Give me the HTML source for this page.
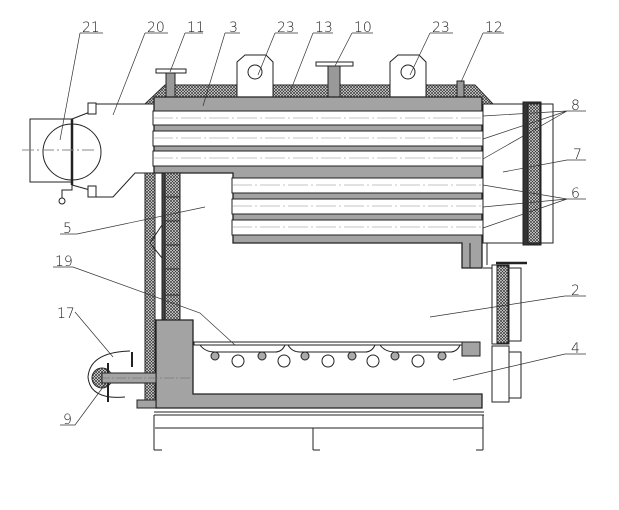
<!DOCTYPE html>
<html><head><meta charset="utf-8"><style>
html,body{margin:0;padding:0;background:#fff;}
svg{display:block;}
text{font-family:"DejaVu Sans","Liberation Sans",sans-serif;font-size:14px;fill:#222;font-weight:300;}
</style></head><body>
<svg width="619" height="510" viewBox="0 0 619 510" xmlns="http://www.w3.org/2000/svg">
<defs>
<pattern id="h" width="3" height="3" patternUnits="userSpaceOnUse">
<rect width="3" height="3" fill="#e8e8e8"/>
<path d="M0,0L3,3M3,0L0,3" stroke="#333" stroke-width="0.7"/>
</pattern>
</defs>
<g stroke="#222" stroke-width="1" fill="none">
<!-- top insulation -->
<path d="M145,104 L165,85 L475,85 L493,104 Z" fill="url(#h)"/>
<!-- lugs -->
<path d="M237,97 L237,62 L245,55 L266,55 L273,62 L273,97 Z" fill="#fff"/>
<circle cx="255" cy="72" r="7" fill="#fff"/>
<path d="M390,97 L390,62 L398,55 L419,55 L426,62 L426,97 Z" fill="#fff"/>
<circle cx="408" cy="72" r="7" fill="#fff"/>
<!-- nozzles -->
<rect x="156" y="69" width="30" height="4" fill="#fff"/>
<rect x="166" y="73" width="9" height="25" fill="#999"/>
<rect x="316" y="62" width="37" height="4" fill="#fff"/>
<rect x="328" y="66" width="12" height="32" fill="#999"/>
<rect x="457" y="81" width="7" height="17" fill="#999"/>
<!-- gray shell -->
<path d="M154,97 L482,97 L482,268 L462,268 L462,243 L233,243 L233,173 L154,173 Z" fill="#a3a3a3" stroke-width="1.3"/>
<!-- upper tubes -->
<g fill="#fff">
<rect x="153" y="111" width="330" height="14"/>
<rect x="153" y="131" width="330" height="15"/>
<rect x="153" y="151" width="330" height="15"/>
<rect x="232" y="178" width="251" height="15"/>
<rect x="232" y="199" width="251" height="15"/>
<rect x="232" y="220" width="251" height="15"/>
</g>
<g stroke="#888" stroke-width="0.6" stroke-dasharray="20,3,2,3">
<path d="M153,118H483M153,138H483M153,158H483M232,185H483M232,206H483M232,227H483"/>
</g>
<!-- flue box right -->
<rect x="483" y="104" width="40" height="139" fill="#fff"/>
<rect x="523" y="102" width="18" height="143" fill="#333"/>
<rect x="528" y="104" width="12" height="139" fill="url(#h)"/>
<rect x="541" y="104" width="12" height="139" fill="#fff"/>
<path d="M470,243 V268 M487,243 V265 M483,268 H492"/>
<!-- door 2 -->
<path d="M496,263 H527" stroke-width="2.5"/>
<rect x="492" y="265" width="17" height="79" fill="#fff"/>
<rect x="497" y="266" width="11" height="77" fill="url(#h)"/>
<rect x="509" y="268" width="12" height="73" fill="#fff"/>
<!-- door 4 -->
<rect x="492" y="346" width="17" height="56" fill="#fff"/>
<rect x="509" y="352" width="12" height="46" fill="#fff"/>
<rect x="462" y="342" width="18" height="14" fill="#a3a3a3"/>
<!-- left wall insulation -->
<rect x="145" y="173" width="10" height="228" fill="url(#h)"/>
<rect x="162" y="173" width="3" height="147" fill="#444"/>
<rect x="165" y="173" width="15" height="147" fill="url(#h)"/>
<path d="M165,197H180M165,221H180M165,245H180M165,269H180M165,295H180"/>
<path d="M162,225 L150,243 L162,258"/>
<!-- firebox L gray -->
<path d="M156,320 L193,320 L193,394 L482,394 L482,408 L156,408 Z" fill="#a3a3a3" stroke-width="1.3"/>
<rect x="137" y="400" width="19" height="8" fill="#a3a3a3"/>
<!-- grate -->
<rect x="194" y="342" width="268" height="3" fill="#fff"/>
<path d="M200,345 Q205,352 215,352 L275,352 Q282,352 285,345 M288,345 Q292,352 300,352 L365,352 Q372,352 375,345 M380,345 Q385,352 395,352 L450,352 Q457,352 460,345"/>
<g fill="#aaa"><circle cx="215" cy="356" r="4"/><circle cx="262" cy="356" r="4"/><circle cx="305" cy="356" r="4"/><circle cx="352" cy="356" r="4"/><circle cx="395" cy="356" r="4"/><circle cx="442" cy="356" r="4"/></g>
<g fill="#fff"><circle cx="238" cy="361" r="6"/><circle cx="284" cy="361" r="6"/><circle cx="328" cy="361" r="6"/><circle cx="373" cy="361" r="6"/><circle cx="418" cy="361" r="6"/></g>
<!-- base -->
<path d="M154,412 H484 M154,415 H484 M155,428 H483 M154,415 V450 M313,428 V450 M483,415 V450 M154,450 H162 M313,450 H320 M483,450 H476"/>
<!-- flue 20 -->
<path d="M100,104 H154 M154,173 L135,173 L113,197 L100,197"/>
<!-- damper 21 -->
<rect x="30" y="119" width="42" height="63" fill="#fff"/>
<ellipse cx="72" cy="152" rx="29" ry="28" fill="#fff"/>
<path d="M72,119 V185" stroke-width="2.5"/>
<path d="M22,150 H95" stroke="#888" stroke-dasharray="12,3,2,3"/>
<path d="M72,119 L90,112 M72,185 L90,190"/>
<rect x="88" y="103" width="8" height="11" fill="#fff"/>
<rect x="88" y="186" width="8" height="11" fill="#fff"/>
<path d="M96,104 H100 M96,197 H100"/>
<path d="M72,185 V190 H62 V198"/>
<circle cx="62" cy="201" r="3" fill="#fff"/>
<!-- burner -->
<path d="M130,351 Q90,352 88,377 Q90,400 125,397" fill="#fff"/>
<circle cx="102" cy="378" r="10" fill="url(#h)"/>
<path d="M108,363 V402" stroke-width="2"/>
<rect x="102" y="373" width="54" height="10" fill="#a3a3a3"/>
<path d="M132,352 V367" stroke-width="2"/>
<path d="M100,378 H190" stroke="#666" stroke-dasharray="10,2,2,2" stroke-width="0.6"/>
<!-- leaders -->
<g stroke="#333" stroke-width="0.7">
<path d="M80,33 H103 M80,33 L60,140"/>
<path d="M145,33 H168 M145,33 L113,115"/>
<path d="M185,33 H203 M185,33 L170,72"/>
<path d="M225,33 H240 M225,33 L203,106"/>
<path d="M275,33 H298 M275,33 L258,75"/>
<path d="M313,33 H333 M313,33 L290,92"/>
<path d="M352,33 H373 M352,33 L335,66"/>
<path d="M430,33 H453 M430,33 L410,75"/>
<path d="M483,33 H504 M483,33 L461,82"/>
<path d="M567,111 H586 M567,111 L483,116 M567,111 L483,139 M567,111 L483,159"/>
<path d="M567,160 H586 M567,160 L503,172"/>
<path d="M567,199 H586 M567,199 L483,185 M567,199 L483,207 M567,199 L483,228"/>
<path d="M565,296 H586 M565,296 L430,317"/>
<path d="M565,354 H586 M565,354 L453,380"/>
<path d="M60,234 H77 L205,207"/>
<path d="M53,267 H73 L200,313 L235,345"/>
<path d="M75,312 L113,357"/>
<path d="M60,425 H75 L106,383"/>
</g>
</g>
<g>
<text x="82" y="32">21</text>
<text x="147" y="32">20</text>
<text x="187" y="32">11</text>
<text x="229" y="32">3</text>
<text x="277" y="32">23</text>
<text x="315" y="32">13</text>
<text x="354" y="32">10</text>
<text x="432" y="32">23</text>
<text x="485" y="32">12</text>
<text x="571" y="110">8</text>
<text x="573" y="159">7</text>
<text x="571" y="198">6</text>
<text x="571" y="295">2</text>
<text x="571" y="353">4</text>
<text x="63" y="233">5</text>
<text x="55" y="266">19</text>
<text x="57" y="318">17</text>
<text x="63" y="424">9</text>
</g>
</svg>
</body></html>
